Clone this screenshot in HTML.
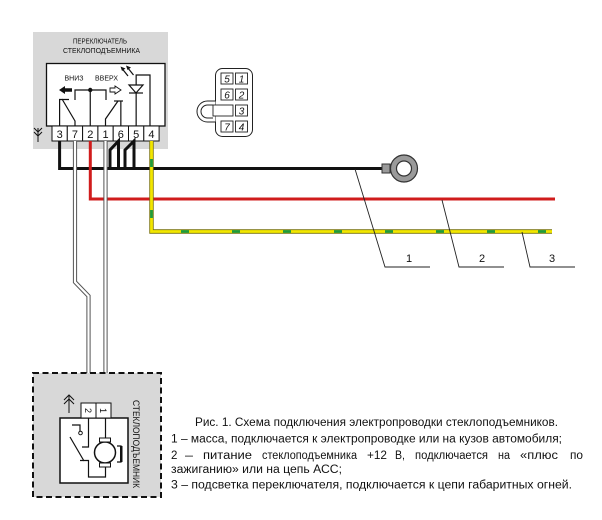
<!DOCTYPE html>
<html><head><meta charset="utf-8">
<style>
html,body{margin:0;padding:0;background:#fff;}
svg{display:block;}
text{font-family:"Liberation Sans","DejaVu Sans",sans-serif;fill:#111;}
</style></head><body>
<svg width="602" height="520" viewBox="0 0 602 520" xmlns="http://www.w3.org/2000/svg">
<!-- switch box -->
<rect x="33" y="32" width="135" height="117" fill="#d8d8d8"/>
<text x="100" y="43.5" font-size="7.5" text-anchor="middle" textLength="54" lengthAdjust="spacingAndGlyphs">ПЕРЕКЛЮЧАТЕЛЬ</text>
<text x="101.5" y="53" font-size="7.5" text-anchor="middle" textLength="77" lengthAdjust="spacingAndGlyphs">СТЕКЛОПОДЪЕМНИКА</text>
<rect x="46.5" y="63.5" width="118.5" height="62.5" fill="#fff" stroke="#111" stroke-width="1.3"/>
<text x="64.5" y="80.5" font-size="7.5" textLength="19" lengthAdjust="spacingAndGlyphs">ВНИЗ</text>
<text x="95" y="80.5" font-size="7.5" textLength="23" lengthAdjust="spacingAndGlyphs">ВВЕРХ</text>
<polygon points="59,90 65,86 65,88.2 72,88.2 72,91.8 65,91.8 65,94" fill="#111"/>
<polygon points="121,90 115,86 115,88 110,88 110,92 115,92 115,94" fill="#fff" stroke="#111" stroke-width="0.9"/>
<g stroke="#111" stroke-width="1.2" fill="none">
<path d="M75 100 V90 H106 V100"/>
<path d="M90.25 90 V126"/>
<path d="M59.6 126 V99.5 H69"/>
<path d="M62 99 L75 121 V126"/>
<path d="M105.5 126 V119 L118 101"/>
<path d="M114 101 H123"/>
<path d="M120.85 101 V126"/>
<path d="M136.15 126 V75 H150 V126"/>
<path d="M129 93 H143"/>
<path d="M128 76 L122 68.5"/>
<path d="M133.5 75 L127.5 67.5"/>
<path d="M34 128 L38 132 L42 128 M34 132 L38 136 L42 132 M38 128 V142" stroke-width="1"/>
</g>
<polygon points="129,85 143,85 136,93" fill="#fff" stroke="#111" stroke-width="1.2"/>
<polygon points="120.5,66.5 125.5,68.5 122,71" fill="#111"/>
<polygon points="126,65.5 131,67.5 127.5,70" fill="#111"/>
<circle cx="90.25" cy="90" r="2.2" fill="#111"/>
<!-- terminals -->
<g fill="#fff" stroke="#111" stroke-width="1">
<rect x="52" y="126" width="15.3" height="15"/>
<rect x="67.3" y="126" width="15.3" height="15"/>
<rect x="82.6" y="126" width="15.3" height="15"/>
<rect x="97.9" y="126" width="15.3" height="15"/>
<rect x="113.2" y="126" width="15.3" height="15"/>
<rect x="128.5" y="126" width="15.3" height="15"/>
<rect x="143.8" y="126" width="15.3" height="15"/>
</g>
<g font-size="11" text-anchor="middle">
<text x="59.65" y="138">3</text>
<text x="74.95" y="138">7</text>
<text x="90.25" y="138">2</text>
<text x="105.55" y="138">1</text>
<text x="120.85" y="138">6</text>
<text x="136.15" y="138">5</text>
<text x="151.45" y="138">4</text>
</g>
<!-- wires -->
<path d="M59.6 141 V168.5 H384" fill="none" stroke="#111" stroke-width="3"/>
<path d="M110 168.5 V150 L118.5 141 V168.5" fill="none" stroke="#111" stroke-width="3"/>
<path d="M125 168.5 V150 L134 141 V168.5" fill="none" stroke="#111" stroke-width="3"/>
<path d="M90.3 141 V199 H555" fill="none" stroke="#d01c1c" stroke-width="3"/>
<g fill="none">
<path d="M75 141 V282 L88.5 296 V403" stroke="#555" stroke-width="4.2"/>
<path d="M75 141 V282 L88.5 296 V403" stroke="#fff" stroke-width="2.2"/>
<path d="M105.5 141 V403" stroke="#555" stroke-width="4.2"/>
<path d="M105.5 141 V403" stroke="#fff" stroke-width="2.2"/>
</g>
<g fill="none">
<path d="M151.5 141 V231.5 H552" stroke="#77700a" stroke-width="4.4"/>
<path d="M151.5 141 V231.5 H552" stroke="#f2e600" stroke-width="2.8"/>
<path d="M151.5 141 V231.5 H552" stroke="#1e9a3c" stroke-width="2.8" stroke-dasharray="8 43" stroke-dashoffset="33"/>
</g>
<!-- ring terminal -->
<rect x="382" y="164" width="8" height="9" fill="#9a9a9a" stroke="#333" stroke-width="1"/>
<circle cx="404" cy="168.5" r="13.5" fill="#9a9a9a" stroke="#333" stroke-width="1.2"/>
<circle cx="404" cy="168.5" r="7.5" fill="#fff" stroke="#333" stroke-width="1.2"/>
<!-- leaders -->
<g fill="none" stroke="#222" stroke-width="0.9">
<polyline points="355,169 385,267 430,267"/>
<polyline points="442,200 459,267 504,267"/>
<polyline points="522,232 530,267 575,267"/>
</g>
<g font-size="11" text-anchor="middle">
<text x="409" y="262">1</text>
<text x="482" y="262">2</text>
<text x="552" y="262">3</text>
</g>
<!-- connector icon -->
<rect x="215.5" y="68.5" width="37" height="68" rx="7" fill="#fff" stroke="#222" stroke-width="1"/>
<path d="M215.5 101 H207.5 A10.5 10.5 0 0 0 207.5 122 H215.5" fill="#fff" stroke="#222" stroke-width="1"/>
<path d="M213 105 H207.5 A6.5 6.5 0 0 0 207.5 118 H213" fill="none" stroke="#222" stroke-width="1"/>
<g fill="#fff" stroke="#222" stroke-width="0.9">
<rect x="221" y="73" width="12" height="11"/>
<rect x="235.5" y="73" width="12" height="11"/>
<rect x="221" y="89" width="12" height="11"/>
<rect x="235.5" y="89" width="12" height="11"/>
<rect x="213" y="105" width="20" height="11"/>
<rect x="235.5" y="105" width="12" height="11"/>
<rect x="221" y="121" width="12" height="11"/>
<rect x="235.5" y="121" width="12" height="11"/>
</g>
<g font-size="10" font-style="italic" text-anchor="middle">
<text x="227" y="82.5">5</text>
<text x="241.5" y="82.5">1</text>
<text x="227" y="98.5">6</text>
<text x="241.5" y="98.5">2</text>
<text x="241.5" y="114.5">3</text>
<text x="227" y="130.5">7</text>
<text x="241.5" y="130.5">4</text>
</g>
<!-- motor box -->
<rect x="33" y="373" width="128" height="124" fill="#d8d8d8" stroke="#111" stroke-width="2" stroke-dasharray="6 3.5"/>
<rect x="60" y="418" width="68" height="65" fill="#fff" stroke="#111" stroke-width="1.5"/>
<rect x="81" y="403" width="15" height="15" fill="#fff" stroke="#111" stroke-width="1"/>
<rect x="96" y="403" width="15" height="15" fill="#fff" stroke="#111" stroke-width="1"/>
<text transform="translate(88.5 410.5) rotate(90)" y="3.3" font-size="9" text-anchor="middle">2</text>
<text transform="translate(103.5 410.5) rotate(90)" y="3.3" font-size="9" text-anchor="middle">1</text>
<g fill="none" stroke="#111" stroke-width="1.2">
<path d="M88.5 418 V447 H82"/>
<path d="M70 437 L84 461"/>
<path d="M80 460.5 H88.5 V477 H105.5 V467"/>
<path d="M105.5 418 V438"/>
<path d="M72 425 H80 V431"/>
<path d="M117 446 H121 V462 H117"/>
<path d="M64 400 L69 395 L74 400 M64 404 L69 399 L74 404 M69 395 V413" stroke-width="1"/>
</g>
<circle cx="80.5" cy="433" r="1.8" fill="none" stroke="#111" stroke-width="1"/>
<rect x="120" y="446" width="2.5" height="16" fill="#111"/>
<circle cx="105" cy="452.5" r="10.5" fill="#fff" stroke="#111" stroke-width="1.5"/>
<rect x="99.5" y="438" width="11" height="4" fill="#fff" stroke="#111" stroke-width="1"/>
<rect x="99.5" y="463" width="11" height="4" fill="#fff" stroke="#111" stroke-width="1"/>
<text transform="translate(133 444) rotate(90)" font-size="9.5" text-anchor="middle" textLength="88" lengthAdjust="spacingAndGlyphs">СТЕКЛОПОДЪЕМНИК</text>
<!-- caption -->
<g font-size="11.5">
<text x="195" y="426" textLength="363" lengthAdjust="spacingAndGlyphs">Рис. 1. Схема подключения электропроводки стеклоподъемников.</text>
<text x="171" y="442.5" textLength="391" lengthAdjust="spacingAndGlyphs">1 – масса, подключается к электропроводке или на кузов автомобиля;</text>
<text x="171" y="459">2</text>
<text x="185" y="459" textLength="8" lengthAdjust="spacingAndGlyphs">–</text>
<text x="203" y="459" textLength="49" lengthAdjust="spacingAndGlyphs">питание</text>
<text x="262" y="459" textLength="95" lengthAdjust="spacingAndGlyphs">стеклоподъемника</text>
<text x="367" y="459" textLength="20" lengthAdjust="spacingAndGlyphs">+12</text>
<text x="395" y="459" textLength="10" lengthAdjust="spacingAndGlyphs">В,</text>
<text x="415" y="459" textLength="73" lengthAdjust="spacingAndGlyphs">подключается</text>
<text x="498" y="459" textLength="12" lengthAdjust="spacingAndGlyphs">на</text>
<text x="520" y="459" textLength="38" lengthAdjust="spacingAndGlyphs">«плюс</text>
<text x="570" y="459" textLength="13" lengthAdjust="spacingAndGlyphs">по</text>
<text x="171" y="473" textLength="171" lengthAdjust="spacingAndGlyphs">зажиганию» или на цепь АСС;</text>
<text x="171" y="488.5" textLength="401" lengthAdjust="spacingAndGlyphs">3 – подсветка переключателя, подключается к цепи габаритных огней.</text>
</g>
</svg>
</body></html>
